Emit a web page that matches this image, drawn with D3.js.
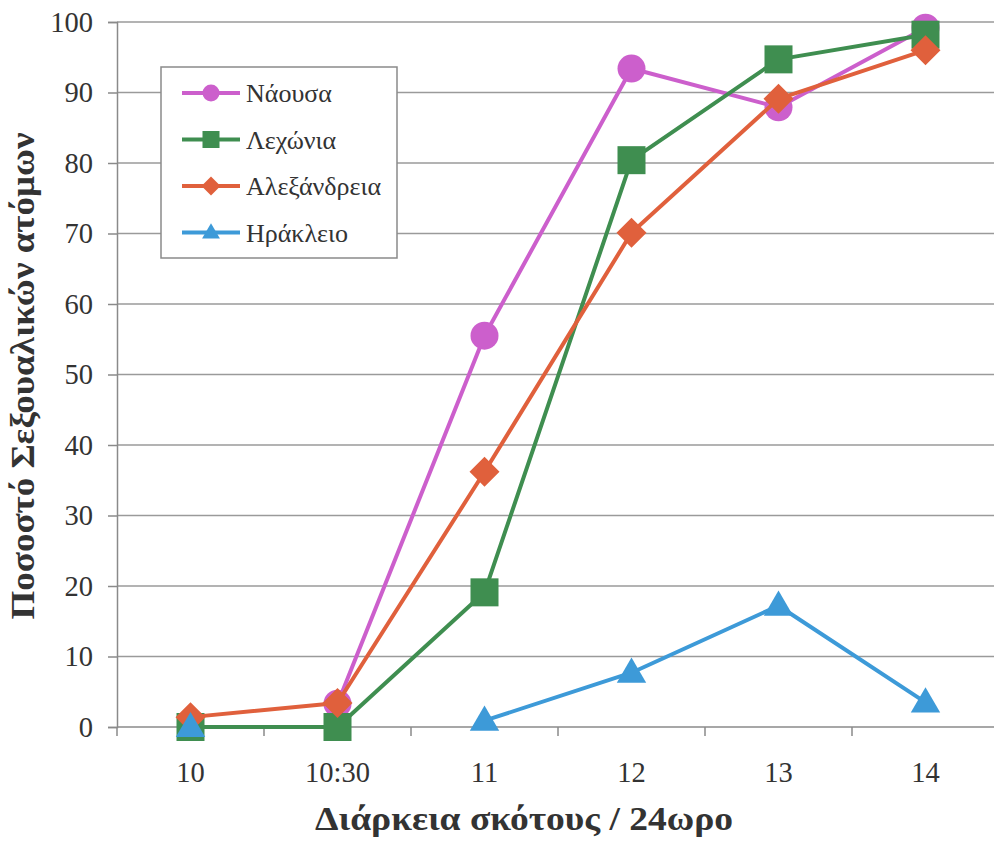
<!DOCTYPE html>
<html>
<head>
<meta charset="utf-8">
<script src="https://cdn.jsdelivr.net/npm/d3@7"></script>
</head>
<body style="margin:0;padding:0;background:#fff">
<svg id="chart" width="994" height="848" style="display:block"></svg>
<script>
// Dark duration per 24h (categories)
const categories = ["10", "10:30", "11", "12", "13", "14"];

// Percentage of sexual individuals per population
const naousa      = [null, 3.3, 55.5, 93.4, 87.9, 99.2];
const lechonia    = [0, 0, 19.1, 80.4, 94.7, 98.2];
const alexandreia = [1.4, 3.4, 36.2, 70.1, 89.1, 96.0];
const irakleio    = [0, null, 0.9, 7.7, 17.2, 3.5];

const seriesNames = ["Νάουσα", "Λεχώνια", "Αλεξάνδρεια", "Ηράκλειο"];
const yTicks = [0, 10, 20, 30, 40, 50, 60, 70, 80, 90, 100];

const series = [
  { name: seriesNames[0], values: naousa,      color: "#cc5fcc", shape: "circle" },
  { name: seriesNames[1], values: lechonia,    color: "#3f8e50", shape: "square" },
  { name: seriesNames[2], values: alexandreia, color: "#e0603c", shape: "diamond" },
  { name: seriesNames[3], values: irakleio,    color: "#3d9ad8", shape: "triangle" }
];

const FONT = "'Liberation Serif', serif";
const TEXT_COLOR = "#333";
const svg = d3.select("#chart");
const plotLeft = 117, plotRight = 999, plotTop = 22, plotBottom = 727;

const x = d3.scaleBand().domain(categories).range([plotLeft, plotRight]).paddingInner(0).paddingOuter(0);
const xc = c => x(c) + x.bandwidth() / 2;
const y = d3.scaleLinear().domain([0, 100]).range([plotBottom, plotTop]);

function styleText(sel, size, bold) {
  sel.attr("font-family", FONT)
    .attr("font-size", size)
    .attr("font-weight", bold ? "bold" : "normal")
    .attr("fill", TEXT_COLOR);
  return sel;
}

// Horizontal gridlines
svg.append("g")
  .selectAll("line")
  .data(yTicks.filter(t => t > 0))
  .join("line")
  .attr("x1", plotLeft).attr("x2", plotRight)
  .attr("y1", d => y(d)).attr("y2", d => y(d))
  .attr("stroke", "#9a9a9a").attr("stroke-width", 1.5);

// Y axis
const yAxis = svg.append("g")
  .attr("transform", `translate(${plotLeft},0)`)
  .call(d3.axisLeft(y).tickValues(yTicks).tickSize(9).tickPadding(15));
yAxis.attr("font-family", FONT);
yAxis.select(".domain").attr("stroke", "#8a8a8a").attr("stroke-width", 1.5);
yAxis.selectAll(".tick line").attr("stroke", "#8a8a8a").attr("stroke-width", 1.5);
styleText(yAxis.selectAll(".tick text"), 28.5, false);

// X axis: ticks at category boundaries, labels at centres
const xAxisG = svg.append("g").attr("transform", `translate(0,${plotBottom})`);
xAxisG.append("line")
  .attr("x1", plotLeft).attr("x2", plotRight).attr("y1", 0).attr("y2", 0)
  .attr("stroke", "#8a8a8a").attr("stroke-width", 1.5);
const boundaries = categories.map(c => x(c)).concat([x(categories[categories.length - 1]) + x.bandwidth()]);
xAxisG.selectAll("line.tk")
  .data(boundaries)
  .join("line")
  .attr("class", "tk")
  .attr("x1", d => d).attr("x2", d => d)
  .attr("y1", 0).attr("y2", 9)
  .attr("stroke", "#8a8a8a").attr("stroke-width", 1.5);
styleText(xAxisG.selectAll("text")
  .data(categories)
  .join("text")
  .attr("x", d => xc(d))
  .attr("y", 55)
  .attr("text-anchor", "middle")
  .text(d => d), 28.5, false);

// Axis titles
styleText(svg.append("text")
  .attr("x", 524).attr("y", 830)
  .attr("text-anchor", "middle")
  .attr("textLength", 418)
  .attr("lengthAdjust", "spacingAndGlyphs")
  .text("Διάρκεια σκότους / 24ωρο"), 33, true);

styleText(svg.append("text")
  .attr("transform", "translate(34,376) rotate(-90)")
  .attr("text-anchor", "middle")
  .attr("textLength", 487)
  .attr("lengthAdjust", "spacingAndGlyphs")
  .text("Ποσοστό Σεξουαλικών ατόμων"), 33, true);

// Marker drawing
function drawMarker(g, shape, cx, cy, s, color) {
  if (shape === "circle") {
    g.append("circle").attr("cx", cx).attr("cy", cy).attr("r", s / 2).attr("fill", color);
  } else if (shape === "square") {
    g.append("rect").attr("x", cx - s / 2).attr("y", cy - s / 2)
      .attr("width", s).attr("height", s).attr("fill", color);
  } else if (shape === "diamond") {
    const h = s / 2 + 1;
    g.append("path")
      .attr("d", `M${cx},${cy - h}L${cx + h},${cy}L${cx},${cy + h}L${cx - h},${cy}Z`)
      .attr("fill", color);
  } else {
    const w = s * 1.05, hh = s * 0.9;
    g.append("path")
      .attr("d", `M${cx},${cy - hh * 0.6}L${cx + w / 2},${cy + hh * 0.4}L${cx - w / 2},${cy + hh * 0.4}Z`)
      .attr("fill", color);
  }
}

// Series lines and markers
const line = d3.line()
  .defined(d => d.v !== null)
  .x(d => xc(d.c))
  .y(d => y(d.v));

series.forEach(s => {
  const pts = categories.map((c, i) => ({ c, v: s.values[i] }));
  const g = svg.append("g");
  g.append("path")
    .attr("d", line(pts))
    .attr("fill", "none")
    .attr("stroke", s.color)
    .attr("stroke-width", 4)
    .attr("stroke-linejoin", "round");
  pts.filter(p => p.v !== null).forEach(p => {
    drawMarker(g, s.shape, xc(p.c), y(p.v), 28, s.color);
  });
});

// Legend
const lg = svg.append("g");
lg.append("rect")
  .attr("x", 161).attr("y", 67).attr("width", 236).attr("height", 191)
  .attr("fill", "#fff").attr("stroke", "#8a8a8a").attr("stroke-width", 1.5);
series.forEach((s, i) => {
  const cy = 93 + i * 46.5;
  lg.append("line")
    .attr("x1", 182).attr("x2", 240).attr("y1", cy).attr("y2", cy)
    .attr("stroke", s.color).attr("stroke-width", 4);
  drawMarker(lg, s.shape, 211, cy, 17, s.color);
  styleText(lg.append("text")
    .attr("x", 246).attr("y", cy + 9)
    .text(s.name), 26, false);
});
</script>
</body>
</html>
